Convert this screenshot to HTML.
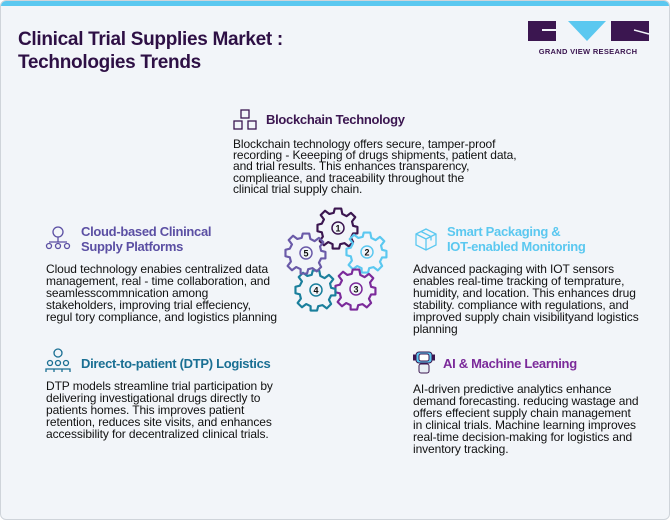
<!DOCTYPE html>
<html><head><meta charset="utf-8"><style>
*{margin:0;padding:0;box-sizing:border-box}
body{width:671px;height:521px;background:#fff;font-family:"Liberation Sans",sans-serif;position:relative;overflow:hidden}
#card{position:absolute;left:0;top:0;width:670px;height:520px;background:#f2f5f9;border:1px solid #cfd4da;border-radius:6px;overflow:hidden}
#bar{position:absolute;left:0;top:0;width:100%;height:5px;background:#5bc8f0}
.a{position:absolute;white-space:nowrap}
.t{font-weight:bold;font-size:19px;color:#2e1045;line-height:23px;letter-spacing:-0.3px}
.h{font-weight:bold;font-size:13px;line-height:15px;letter-spacing:-0.3px}
.b{font-size:12px;line-height:12px;color:#111;letter-spacing:-0.1px}
</style></head><body>
<div id="card"><div id="bar"></div>
<div class="a t" style="left:17px;top:27px">Clinical Trial Supplies Market :<br>Technologies Trends</div>
<svg class="a" style="left:525px;top:18px" width="126" height="40">
<rect x="2" y="2" width="28" height="20" fill="#3b1650"/><rect x="16" y="10" width="14" height="2" fill="#f2f5f9"/>
<polygon points="42,2 80,2 61,22" fill="#5bc8f0"/>
<rect x="85" y="2" width="38" height="20" fill="#3b1650"/><line x1="108" y1="11" x2="123" y2="15" stroke="#f2f5f9" stroke-width="1.5"/>
<text x="62" y="35" text-anchor="middle" font-family="Liberation Sans" font-size="7.5" font-weight="bold" fill="#3b1650" letter-spacing="0.3">GRAND VIEW RESEARCH</text>
</svg>

<svg class="a" style="left:231px;top:107px" width="26" height="24" fill="none" stroke="#3b1650" stroke-width="1.3">
<rect x="9" y="2" width="8" height="8"/><rect x="2" y="13" width="8" height="8"/><rect x="16" y="13" width="8" height="8"/></svg>
<div class="a h" style="left:265px;top:111px;color:#3b1650">Blockchain Technology</div>
<div class="a b" style="left:232px;top:138px;line-height:11.2px">Blockchain technology offers secure, tamper-proof<br>recording - Keeeping of drugs shipments, patient data,<br>and trial results. This enhances transparency,<br>complieance, and traceability throughout the<br>clinical trial supply chain.</div>

<svg class="a" style="left:44px;top:224px" width="26" height="26" fill="none" stroke="#5b4fa3" stroke-width="1.3">
<circle cx="13" cy="7" r="5"/><line x1="13" y1="12" x2="13" y2="17"/><line x1="4" y1="17" x2="22" y2="17"/><circle cx="4" cy="21" r="2.5"/><circle cx="13" cy="21" r="2.5"/><circle cx="22" cy="21" r="2.5"/></svg>
<div class="a h" style="left:80px;top:223px;color:#5b4fa3">Cloud-based Clinincal<br>Supply Platforms</div>
<div class="a b" style="left:45px;top:262px">Cloud technology enabies centralized data<br>management, real - time collaboration, and<br>seamlesscommnication among<br>stakeholders, improving trial effeciency,<br>regul tory compliance, and logistics planning</div>

<svg class="a" style="left:44px;top:347px" width="26" height="26" fill="none" stroke="#1a6f93" stroke-width="1.3">
<circle cx="13" cy="5" r="4"/><circle cx="5" cy="15" r="2.5"/><circle cx="13" cy="15" r="2.5"/><circle cx="21" cy="15" r="2.5"/><path d="M1 24v-3h8v3M9 24v-3h8v3M17 24v-3h8v3"/></svg>
<div class="a h" style="left:80px;top:355px;color:#1a6f93">Direct-to-patient (DTP) Logistics</div>
<div class="a b" style="left:45px;top:379px">DTP models streamline trial participation by<br>delivering investigational drugs directly to<br>patients homes. This improves patient<br>retention, reduces site visits, and enhances<br>accessibility for decentralized clinical trials.</div>

<svg class="a" style="left:412px;top:226px" width="26" height="24" fill="none" stroke="#5bc8f0" stroke-width="1.3">
<path d="M3 7l10-5 10 5v11l-10 5-10-5z M3 7l10 5 10-5 M13 12v11 M8 4.5l10 5v4"/></svg>
<div class="a h" style="left:446px;top:223px;color:#5bc8f0">Smart Packaging &amp;<br>IOT-enabled Monitoring</div>
<div class="a b" style="left:412px;top:262px">Advanced packaging with IOT sensors<br>enables real-time tracking of temprature,<br>humidity, and location. This enhances drug<br>stability. compliance with regulations, and<br>improved supply chain visibilityand logistics<br>planning</div>

<svg class="a" style="left:412px;top:349px" width="22" height="24" stroke="#3b1650" stroke-width="1">
<rect x="3" y="2" width="16" height="11" rx="3" fill="#5bc8f0"/><rect x="6" y="4" width="10" height="7" rx="2" fill="#fff"/><rect x="6" y="14" width="10" height="9" rx="2" fill="#e8eef5"/><rect x="0" y="5" width="3" height="5" fill="#3b1650"/><rect x="19" y="5" width="3" height="5" fill="#3b1650"/></svg>
<div class="a h" style="left:442px;top:355px;color:#7b2a9a">AI &amp; Machine Learning</div>
<div class="a b" style="left:412px;top:382px">AI-driven predictive analytics enhance<br>demand forecasting. reducing wastage and<br>offers effecient supply chain management<br>in clinical trials. Machine learning improves<br>real-time decision-making for logistics and<br>inventory tracking.</div>

<svg class="a" style="left:0;top:0" width="671" height="521">
<defs>
<g id="gear"><path transform="scale(1.08)" d="M-3,-18 L3,-18 L4,-13 L8,-11 L12,-14 L16,-10 L13,-6 L14,-2 L18,-1 L18,5 L14,5 L12,9 L14,13 L10,17 L6,14 L2,15 L1,19 L-5,19 L-5,15 L-9,13 L-13,16 L-17,12 L-14,8 L-15,4 L-19,3 L-19,-3 L-15,-4 L-13,-8 L-16,-12 L-12,-16 L-8,-13 L-4,-14 Z" fill="none" stroke-width="2" stroke-linejoin="round"/></g>
</defs>
<g font-family="Liberation Sans" font-weight="bold" font-size="9" text-anchor="middle">
<g transform="translate(337,227)" stroke="#3b1650"><use href="#gear"/><circle r="6" fill="none" stroke-width="1.5"/><text y="3.5" stroke="none" fill="#111">1</text></g>
<g transform="translate(366,251)" stroke="#5bc8f0"><use href="#gear"/><circle r="6" fill="none" stroke-width="1.5"/><text y="3.5" stroke="none" fill="#111">2</text></g>
<g transform="translate(355,288)" stroke="#7b2a9a"><use href="#gear"/><circle r="6" fill="none" stroke-width="1.5"/><text y="3.5" stroke="none" fill="#111">3</text></g>
<g transform="translate(315,289)" stroke="#1a7f9c"><use href="#gear"/><circle r="6" fill="none" stroke-width="1.5"/><text y="3.5" stroke="none" fill="#111">4</text></g>
<g transform="translate(305,252)" stroke="#6a5aa8"><use href="#gear"/><circle r="6" fill="none" stroke-width="1.5"/><text y="3.5" stroke="none" fill="#111">5</text></g>
</g>
</svg>
</div>
</body></html>
